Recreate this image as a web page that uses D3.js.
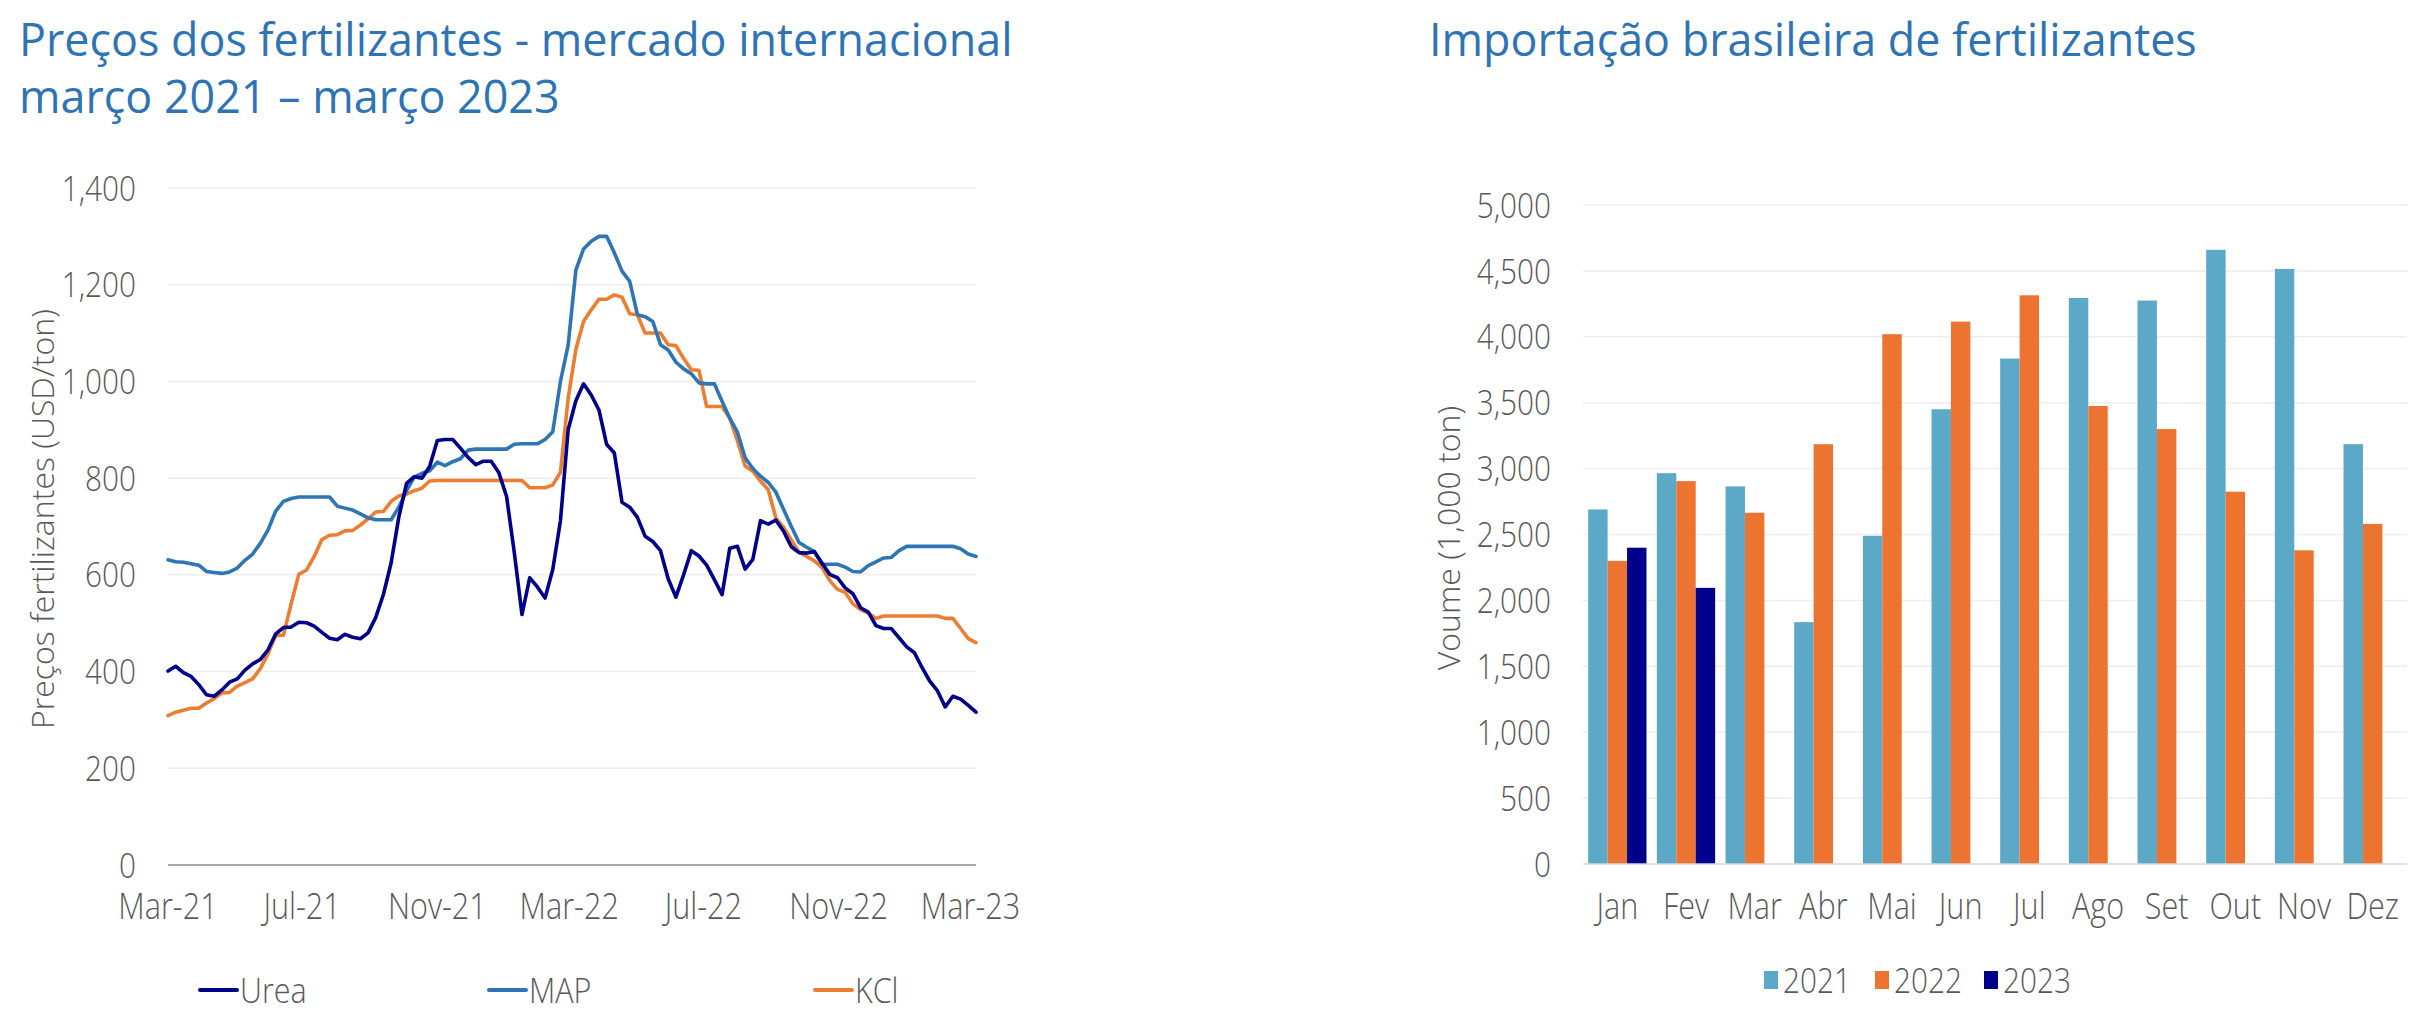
<!DOCTYPE html>
<html>
<head>
<meta charset="utf-8">
<script src="https://cdn.jsdelivr.net/npm/d3@7"></script>
<style>
  html, body { margin: 0; padding: 0; background: #ffffff; }
  svg { display: block; }
  text { font-family: "Open Sans", "Noto Sans", sans-serif; }
</style>
</head>
<body>
<svg id="chart" width="2412" height="1024"></svg>
<script>
// ---------------- DATA ----------------
// Left chart: weekly international prices (USD/ton), first week starting 2021-03-05
const firstWeek = "2021-03-05";
const ureaPrices = [401,411,398,390,373,352,349,362,378,385, 403,416,425,445,478,491,492,502,501,494,
  481,469,466,477,471,468,480,512,560,625, 720,789,803,800,824,878,880,880,862,843,
  828,835,835,811,762,646,518,594,575,552, 611,712,900,960,995,972,941,870,852,750,
  740,719,680,669,650,592,554,600,650,639, 620,590,559,655,659,612,632,712,705,713,
  690,658,646,645,648,624,601,594,573,561, 532,523,495,489,489,470,451,439,408,380,
  360,327,349,343,330,316];
const mapPrices = [631,627,626,623,620,607,605,603,606,614, 630,643,665,693,732,752,758,761,761,761,
  761,761,742,738,734,726,718,714,714,714, 740,774,802,810,815,833,826,834,840,858,
  860,860,860,860,860,870,871,871,871,880, 896,1000,1075,1230,1274,1290,1300,1300,1266,1228,
  1207,1138,1134,1124,1076,1065,1040,1026,1016,997, 995,995,959,924,895,842,820,804,791,771,
  735,700,667,657,648,622,622,622,616,607, 606,619,627,635,636,650,659,659,659,659,
  659,659,659,654,643,638];
const kclPrices = [309,316,320,324,324,335,344,356,357,370, 377,385,406,437,475,475,540,601,610,638,
  673,682,683,691,692,703,716,730,731,752, 763,767,774,779,794,795,795,795,795,795,
  795,795,795,795,795,795,795,780,780,780, 786,812,965,1066,1124,1148,1170,1170,1179,1174,
  1140,1138,1100,1100,1100,1076,1074,1048,1024,1023, 948,948,948,924,877,825,814,794,776,717,
  698,672,647,638,629,615,588,570,564,540, 528,521,510,515,515,515,515,515,515,515,
  515,510,510,489,468,460];
const priceSeriesNames = ["Urea", "MAP", "KCl"];
const priceTicks = [0, 200, 400, 600, 800, 1000, 1200, 1400];
const dateTickDates = ["2021-03-05","2021-07-05","2021-11-05","2022-03-05","2022-07-05","2022-11-05","2023-03-05"];
const dateTickLabels = ["Mar-21","Jul-21","Nov-21","Mar-22","Jul-22","Nov-22","Mar-23"];

// Right chart: Brazilian fertilizer imports (1,000 ton)
const months = ["Jan","Fev","Mar","Abr","Mai","Jun","Jul","Ago","Set","Out","Nov","Dez"];
const years = ["2021", "2022", "2023"];
const imports2021 = [2690,2965,2865,1835,2490,3450,3835,4295,4275,4660,4515,3185];
const imports2022 = [2300,2905,2665,3185,4020,4115,4315,3475,3300,2825,2380,2580];
const imports2023 = [2400,2095,null,null,null,null,null,null,null,null,null,null];
const volumeTicks = [0,500,1000,1500,2000,2500,3000,3500,4000,4500,5000];

// ---------------- DRAWING ----------------
const svg = d3.select("#chart");
const K = 0.85;        // horizontal condensing of label text
const KT = 0.975;      // horizontal condensing of titles
const fmt = d3.format(",");
const tickColor = "#595959";
const titleColor = "#2E74B5";
const lineColors = { "Urea": "#00008C", "MAP": "#2E75B6", "KCl": "#ED7D31" };
const barColors = { "2021": "#5BA8C7", "2022": "#ED7331", "2023": "#00008C" };

function condense(sel, k) {
  sel.each(function () {
    const w = this.getComputedTextLength();
    d3.select(this).attr("textLength", w * k).attr("lengthAdjust", "spacingAndGlyphs");
  });
}

// Titles
const titles = svg.append("g").attr("fill", titleColor).attr("font-size", 46);
titles.append("text").attr("x", 19).attr("y", 56).text("Preços dos fertilizantes - mercado internacional");
titles.append("text").attr("x", 19).attr("y", 113).text("março 2021 – março 2023");
titles.append("text").attr("x", 1429).attr("y", 56).text("Importação brasileira de fertilizantes");
condense(titles.selectAll("text"), KT);

// ===== Left chart =====
const parse = d3.timeParse("%Y-%m-%d");
const start = parse(firstWeek);
const dates = ureaPrices.map((_, i) => d3.timeDay.offset(start, 7 * i));
const xL = d3.scaleTime().domain([start, dates[dates.length - 1]]).range([168, 976]);
const yL = d3.scaleLinear().domain([0, 1400]).range([865, 188]);

const gL = svg.append("g");
gL.append("g").selectAll("line").data(priceTicks.filter(t => t > 0)).join("line")
  .attr("x1", 168).attr("x2", 976)
  .attr("y1", d => yL(d)).attr("y2", d => yL(d))
  .attr("stroke", "#EDEDED").attr("stroke-width", 1.5);
gL.append("line").attr("x1", 168).attr("x2", 976).attr("y1", yL(0)).attr("y2", yL(0))
  .attr("stroke", "#8C8C8C").attr("stroke-width", 1.5);

const yLab = gL.append("g").attr("fill", tickColor).attr("font-size", 35).attr("font-weight", 300)
  .attr("text-anchor", "end")
  .selectAll("text").data(priceTicks).join("text")
  .attr("x", 136).attr("y", d => yL(d)).attr("dy", "0.36em").text(d => fmt(d));
condense(yLab, K);

const xLab = gL.append("g").attr("fill", tickColor).attr("font-size", 36).attr("font-weight", 300)
  .attr("text-anchor", "middle")
  .selectAll("text").data(dateTickDates).join("text")
  .attr("x", d => xL(parse(d))).attr("y", 919).text((d, i) => dateTickLabels[i]);
condense(xLab, K);

gL.append("text").attr("transform", "translate(43,519) rotate(-90)")
  .attr("text-anchor", "middle").attr("dy", "0.35em")
  .attr("font-size", 32).attr("font-weight", 300).attr("fill", tickColor)
  .text("Preços fertilizantes (USD/ton)");

const seriesVals = { "Urea": ureaPrices, "MAP": mapPrices, "KCl": kclPrices };
const line = d3.line().x((d, i) => xL(dates[i])).y(d => yL(d));
["KCl", "MAP", "Urea"].forEach(name => {
  gL.append("path").datum(seriesVals[name])
    .attr("d", line).attr("fill", "none")
    .attr("stroke", lineColors[name]).attr("stroke-width", 3.6)
    .attr("stroke-linejoin", "round").attr("stroke-linecap", "round");
});

// legend left
const legL = gL.append("g");
const legLX = [200, 489, 815];
priceSeriesNames.forEach((name, i) => {
  legL.append("line").attr("x1", legLX[i]).attr("x2", legLX[i] + 37).attr("y1", 990).attr("y2", 990)
    .attr("stroke", lineColors[name]).attr("stroke-width", 4).attr("stroke-linecap", "round");
  legL.append("text").attr("x", legLX[i] + 40).attr("y", 990).attr("dy", "0.36em")
    .attr("font-size", 35).attr("font-weight", 300).attr("fill", tickColor).text(name);
});
condense(legL.selectAll("text"), 0.87);

// ===== Right chart =====
const x0 = d3.scaleBand().domain(months).range([1583, 2407]).paddingInner(0.151).paddingOuter(0.0755);
const x1 = d3.scaleBand().domain(years).range([0, x0.bandwidth()]);
const yR = d3.scaleLinear().domain([0, 5000]).range([864, 205]);
const gR = svg.append("g");

gR.append("g").selectAll("line").data(volumeTicks.filter(t => t > 0)).join("line")
  .attr("x1", 1583).attr("x2", 2407)
  .attr("y1", d => yR(d)).attr("y2", d => yR(d))
  .attr("stroke", "#EDEDED").attr("stroke-width", 1.5);

const yearVals = { "2021": imports2021, "2022": imports2022, "2023": imports2023 };
const barData = [];
months.forEach((m, mi) => years.forEach(y => {
  const v = yearVals[y][mi];
  if (v != null) barData.push({ month: m, year: y, value: v });
}));
gR.append("g").selectAll("rect").data(barData).join("rect")
  .attr("x", d => x0(d.month) + x1(d.year))
  .attr("width", x1.bandwidth())
  .attr("y", d => yR(d.value))
  .attr("height", d => yR(0) - yR(d.value))
  .attr("fill", d => barColors[d.year]);

gR.append("line").attr("x1", 1583).attr("x2", 2407).attr("y1", yR(0)).attr("y2", yR(0))
  .attr("stroke", "#D9D9D9").attr("stroke-width", 1.5);

const yRLab = gR.append("g").attr("fill", tickColor).attr("font-size", 35).attr("font-weight", 300)
  .attr("text-anchor", "end")
  .selectAll("text").data(volumeTicks).join("text")
  .attr("x", 1551).attr("y", d => yR(d)).attr("dy", "0.36em").text(d => fmt(d));
condense(yRLab, K);

const xRLab = gR.append("g").attr("fill", tickColor).attr("font-size", 36).attr("font-weight", 300)
  .attr("text-anchor", "middle")
  .selectAll("text").data(months).join("text")
  .attr("x", d => x0(d) + x0.bandwidth() / 2).attr("y", 919).text(d => d);
condense(xRLab, K);

gR.append("text").attr("transform", "translate(1449,538) rotate(-90)")
  .attr("text-anchor", "middle").attr("dy", "0.35em")
  .attr("font-size", 32).attr("font-weight", 300).attr("fill", tickColor)
  .text("Voume (1,000 ton)");

const legR = gR.append("g");
const legRX = [1764, 1875, 1984];
years.forEach((y, i) => {
  legR.append("rect").attr("x", legRX[i]).attr("y", 971).attr("width", 14).attr("height", 18)
    .attr("fill", barColors[y]);
  legR.append("text").attr("x", legRX[i] + 19).attr("y", 980).attr("dy", "0.36em")
    .attr("font-size", 35).attr("font-weight", 300).attr("fill", tickColor).text(y);
});
condense(legR.selectAll("text"), K);
</script>
</body>
</html>
